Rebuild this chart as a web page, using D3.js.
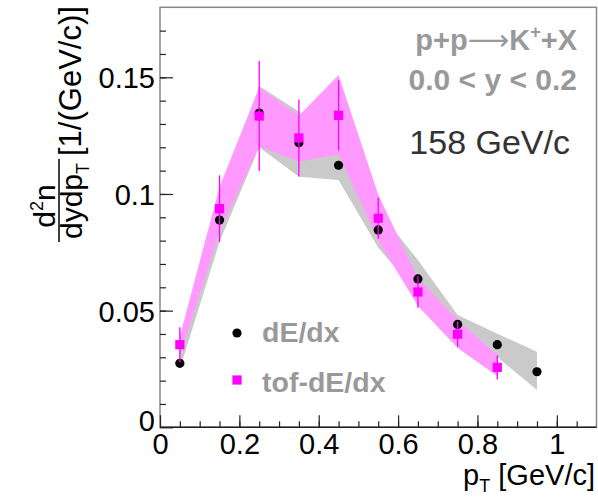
<!doctype html>
<html>
  <head>
    <script src="https://cdnjs.cloudflare.com/ajax/libs/d3/7.8.5/d3.min.js"></script>
    <style>
      body { margin: 0; background: #fff; }
      text { font-family: "Liberation Sans", Arial, sans-serif; }
    </style>
  </head>
  <body>
    <svg id="chart" width="598" height="499"></svg>
    <script>
      // pT bin centres
      var ptBins = [0.05, 0.15, 0.25, 0.35, 0.45, 0.55, 0.65, 0.75, 0.85, 0.95];

      // dE/dx analysis (black circles, grey systematic band)
      var dedxVal   = [0.0274, 0.0888, 0.1347, 0.1219, 0.1123, 0.0846, 0.0636, 0.0441, 0.0354, 0.0238];
      var dedxSysLo = [0.0250, 0.0795, 0.1200, 0.1074, 0.1060, 0.0770, 0.0570, 0.0400, 0.0300, 0.0160];
      var dedxSysHi = [0.0310, 0.0970, 0.1463, 0.1353, 0.1192, 0.0930, 0.0717, 0.0481, 0.0401, 0.0324];

      // tof-dE/dx analysis (magenta squares, magenta band)
      var tofVal   = [0.0354, 0.0937, 0.1334, 0.1240, 0.1337, 0.0896, 0.0580, 0.0399, 0.0257];
      var tofErr   = [0.0075, 0.0143, 0.0236, 0.0165, 0.0150, 0.0088, 0.0068, 0.0054, 0.0052];
      var tofSysLo = [0.0305, 0.0840, 0.1205, 0.1138, 0.1170, 0.0800, 0.0520, 0.0340, 0.0220];
      var tofSysHi = [0.0390, 0.1030, 0.1457, 0.1335, 0.1510, 0.0997, 0.0640, 0.0460, 0.0310];

      var xTicks = [0, 0.2, 0.4, 0.6, 0.8, 1];
      var yTicks = [0, 0.05, 0.1, 0.15];
      var legendLabels = ["dE/dx", "tof-dE/dx"];

      var dedx = ptBins.map((p, i) => ({pt: p, v: dedxVal[i], lo: dedxSysLo[i], hi: dedxSysHi[i]}));
      var tof = tofVal.map((v, i) => ({pt: ptBins[i], v: v, e: tofErr[i], lo: tofSysLo[i], hi: tofSysHi[i]}));

      var L = 160, R = 596.5, T = 7.3, B = 427.3;
      var svg = d3.select("#chart");

      var xScale = d3.scaleLinear().domain([0, 1.1]).range([L, R]);
      var yScale = d3.scaleLinear().domain([0, 0.18]).range([B, T]);

      // systematic bands
      var band = d3.area().x(d => xScale(d.pt)).y0(d => yScale(d.lo)).y1(d => yScale(d.hi));
      svg.append("path").datum(dedx).attr("d", band).attr("fill", "#cacaca");
      svg.append("path").datum(tof).attr("d", band).attr("fill", "#ff99ff");

      // frame
      svg.append("rect").attr("x", L).attr("y", T).attr("width", R - L).attr("height", B - T)
        .attr("fill", "none").attr("stroke", "#888").attr("stroke-width", 1.5);

      // axes: ticks point inwards, ROOT style
      var xAxis = d3.axisTop(xScale).tickValues(xTicks).tickSize(12).tickFormat(d3.format("~g"));
      var xMinor = d3.axisTop(xScale).tickValues(d3.range(0.05, 1.1, 0.05)).tickSize(6).tickFormat("");
      var yAxis = d3.axisRight(yScale).tickValues(yTicks).tickSize(13).tickFormat(d3.format("~g"));
      var yMinor = d3.axisRight(yScale).tickValues(d3.range(0.01, 0.18, 0.01)).tickSize(6).tickFormat("");

      var gx = svg.append("g").attr("transform", "translate(0," + B + ")");
      gx.append("g").call(xMinor);
      gx.append("g").call(xAxis);
      var gy = svg.append("g").attr("transform", "translate(" + L + ",0)");
      gy.append("g").call(yMinor);
      gy.append("g").call(yAxis);
      svg.selectAll(".domain").remove();
      svg.selectAll(".tick line").attr("stroke", "#222").attr("stroke-width", 1.2);
      svg.append("line").attr("x1", L).attr("x2", R).attr("y1", B).attr("y2", B)
        .attr("stroke", "#222").attr("stroke-width", 1.5);

      gx.selectAll(".tick text").attr("y", 0).attr("dy", "27px")
        .attr("font-size", 29).attr("fill", "#000").attr("font-family", "Liberation Sans");
      gy.selectAll(".tick text").attr("x", -5).attr("text-anchor", "end").attr("dy", "0.36em")
        .attr("font-size", 29).attr("fill", "#000").attr("font-family", "Liberation Sans");
      gy.selectAll(".tick").filter(d => d === 0).select("text").attr("dy", "0.1em");

      // markers
      svg.selectAll(".dedx").data(dedx).enter().append("circle")
        .attr("cx", d => xScale(d.pt)).attr("cy", d => yScale(d.v)).attr("r", 4.6).attr("fill", "#000");
      svg.selectAll(".err").data(tof).enter().append("line")
        .attr("x1", d => xScale(d.pt)).attr("x2", d => xScale(d.pt))
        .attr("y1", d => yScale(d.v + d.e)).attr("y2", d => yScale(d.v - d.e))
        .attr("stroke", "#ff00ff").attr("stroke-width", 1.3);
      svg.selectAll(".tof").data(tof).enter().append("rect")
        .attr("x", d => xScale(d.pt) - 4.6).attr("y", d => yScale(d.v) - 4.6)
        .attr("width", 9.2).attr("height", 9.2).attr("fill", "#ff00ff");

      // legend
      svg.append("circle").attr("cx", 237).attr("cy", 333).attr("r", 4.6).attr("fill", "#000");
      svg.append("rect").attr("x", 232.4).attr("y", 375.4).attr("width", 9.2).attr("height", 9.2).attr("fill", "#ff00ff");
      svg.selectAll(".leg").data(legendLabels).enter().append("text")
        .attr("x", 262).attr("y", (d, i) => 342 + i * 50)
        .attr("font-size", 28.5).attr("font-weight", "bold").attr("fill", "#999").text(d => d);

      // labels top right
      var t1 = svg.append("text").attr("x", 577).attr("y", 50).attr("text-anchor", "end")
        .attr("font-size", 29).attr("font-weight", "bold").attr("fill", "#999");
      t1.append("tspan").text("p+p");
      t1.append("tspan").attr("font-family", "DejaVu Sans").attr("font-weight", "normal").text("\u27F6");
      t1.append("tspan").text("K");
      t1.append("tspan").attr("font-size", 18).attr("dy", -12).text("+");
      t1.append("tspan").attr("dy", 12).text("+X");
      svg.append("text").attr("x", 577).attr("y", 90).attr("text-anchor", "end")
        .attr("font-size", 30).attr("font-weight", "bold").attr("fill", "#999").text("0.0 < y < 0.2");
      svg.append("text").attr("x", 570).attr("y", 154).attr("text-anchor", "end")
        .attr("font-size", 34).attr("fill", "#333").text("158 GeV/c");

      // x title
      var xt = svg.append("text").attr("x", 595).attr("y", 485).attr("text-anchor", "end")
        .attr("font-size", 29).attr("fill", "#000");
      xt.append("tspan").text("p");
      xt.append("tspan").attr("font-size", 18).attr("dy", 7).text("T");
      xt.append("tspan").attr("dy", -7).text(" [GeV/c]");

      // y title (rotated)
      var yt = svg.append("g").attr("transform", "rotate(-90)");
      var num = yt.append("text").attr("x", -206).attr("y", 55).attr("text-anchor", "middle")
        .attr("font-size", 30).attr("fill", "#000");
      num.append("tspan").text("d");
      num.append("tspan").attr("font-size", 18).attr("dy", -12).text("2");
      num.append("tspan").attr("dy", 12).text("n");
      yt.append("line").attr("x1", -242).attr("x2", -159).attr("y1", 59).attr("y2", 59)
        .attr("stroke", "#000").attr("stroke-width", 1.5);
      var den = yt.append("text").attr("x", -201).attr("y", 82).attr("text-anchor", "middle")
        .attr("font-size", 30).attr("fill", "#000");
      den.append("tspan").text("dydp");
      den.append("tspan").attr("font-size", 18).attr("dy", 7).text("T");
      yt.append("text").attr("x", -156).attr("y", 81).attr("text-anchor", "start")
        .attr("font-size", 31).attr("fill", "#000").text("[1/(GeV/c)]");
    </script>
  </body>
</html>
